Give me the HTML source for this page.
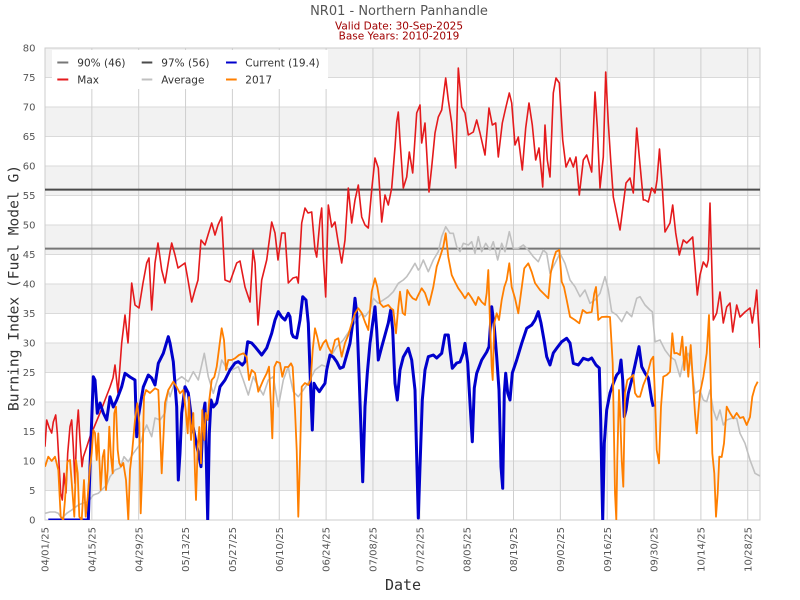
<!DOCTYPE html>
<html><head><meta charset="utf-8"><style>
html,body{margin:0;padding:0;background:#fff;}
svg{display:block;}
text{font-family:"DejaVu Sans","Liberation Sans",sans-serif;}
</style></head><body>
<svg width="800" height="600" viewBox="0 0 800 600" xmlns="http://www.w3.org/2000/svg">
<defs><clipPath id="pc"><rect x="45" y="48" width="715" height="472"/></clipPath></defs>
<rect x="0" y="0" width="800" height="600" fill="#fff"/>
<!-- bands -->
<g fill="#f2f2f2">
<rect x="45" y="461" width="715" height="29.5"/>
<rect x="45" y="402" width="715" height="29.5"/>
<rect x="45" y="343" width="715" height="29.5"/>
<rect x="45" y="284" width="715" height="29.5"/>
<rect x="45" y="225" width="715" height="29.5"/>
<rect x="45" y="166" width="715" height="29.5"/>
<rect x="45" y="107" width="715" height="29.5"/>
<rect x="45" y="48" width="715" height="29.5"/>
</g>
<!-- horizontal grid -->
<g stroke="#dadada" stroke-width="1">
<line x1="45" x2="760" y1="490.5" y2="490.5"/><line x1="45" x2="760" y1="461" y2="461"/>
<line x1="45" x2="760" y1="431.5" y2="431.5"/><line x1="45" x2="760" y1="402" y2="402"/>
<line x1="45" x2="760" y1="372.5" y2="372.5"/><line x1="45" x2="760" y1="343" y2="343"/>
<line x1="45" x2="760" y1="313.5" y2="313.5"/><line x1="45" x2="760" y1="284" y2="284"/>
<line x1="45" x2="760" y1="254.5" y2="254.5"/><line x1="45" x2="760" y1="225" y2="225"/>
<line x1="45" x2="760" y1="195.5" y2="195.5"/><line x1="45" x2="760" y1="166" y2="166"/>
<line x1="45" x2="760" y1="136.5" y2="136.5"/><line x1="45" x2="760" y1="107" y2="107"/>
<line x1="45" x2="760" y1="77.5" y2="77.5"/>
</g>
<!-- vertical grid -->
<g stroke="#cfcfcf" stroke-width="1">
<line x1="91.85" x2="91.85" y1="48" y2="520"/><line x1="138.7" x2="138.7" y1="48" y2="520"/>
<line x1="185.55" x2="185.55" y1="48" y2="520"/><line x1="232.4" x2="232.4" y1="48" y2="520"/>
<line x1="279.25" x2="279.25" y1="48" y2="520"/><line x1="326.1" x2="326.1" y1="48" y2="520"/>
<line x1="372.95" x2="372.95" y1="48" y2="520"/><line x1="419.8" x2="419.8" y1="48" y2="520"/>
<line x1="466.65" x2="466.65" y1="48" y2="520"/><line x1="513.5" x2="513.5" y1="48" y2="520"/>
<line x1="560.35" x2="560.35" y1="48" y2="520"/><line x1="607.2" x2="607.2" y1="48" y2="520"/>
<line x1="654.05" x2="654.05" y1="48" y2="520"/><line x1="700.9" x2="700.9" y1="48" y2="520"/>
<line x1="747.75" x2="747.75" y1="48" y2="520"/>
</g>
<rect x="45" y="48" width="715" height="472" fill="none" stroke="#cccccc" stroke-width="1"/>

<g clip-path="url(#pc)" fill="none" stroke-linejoin="round">
<line x1="45" x2="760" y1="248.6" y2="248.6" stroke="#777" stroke-width="2"/>
<line x1="45" x2="760" y1="189.6" y2="189.6" stroke="#4a4a4a" stroke-width="2"/>
<polyline stroke="#e41a1c" stroke-width="1.6" points="45,446.7 46.7,420 49.3,428 51.7,433 53.3,422 55.7,415 57.3,433 59,463.3 60.7,493.3 62.3,500 64,473.3 66,493 67.7,453.3 70,426.7 71.7,420 73.3,447 75,483.3 76.7,430 78.3,410 80,440 82,466.7 83.3,457 86.7,447 90,436.7 95,425 100,413 105,400 110,387 113,378 115,365 118,393 121.7,343 125,315 128,343 131.7,283 135,305 139,308 143,283 146.7,263 149,258 151.7,310 155,263 158,243 161.7,270 165,283 170,252 171.7,243 175,255 178,268 185,263 188,280 191.7,302 195,290 198,280 201,240 205,245 208,235 211.7,223 215,235 218,225 221.7,217 225,280 230,282 236.7,263 240,261 245,287 250,302 253,250 255,263 258,325 261.7,280 266.7,260 271.7,222 275,233 278,260 281.7,233 285,233 288.3,283 293,278 296.7,277 298.3,283 301.7,223 305,208 308,213 311.7,212 315,250 316.7,257 320,220 321.7,208 323.3,257 325.7,297 328.3,205 331.7,227 335,222 338.3,243 341.7,263 345,240 348.3,188 351.7,223 355,200 358.3,185 361.7,217 365,225 368.3,228 371.7,190 375,158 378.3,168 381.7,222 385,195 388.3,205 391.7,188 395,147 396.7,122 398.3,112 400,140 403.3,188 406.7,177 409.3,152 412.7,173 416.7,113 420,105 421.7,143 425,123 429,192 431.7,167 435,133 438.3,117 441.7,110 445.7,78 448.3,100 451.7,123 455.7,168 458.3,68 461.7,107 465,113 468.3,135 473.3,132 476.7,120 480,133 485,155 489,108 492.3,125 495.7,123 498.3,157 502.3,123 505.7,108 509.3,93 511.7,103 515,145 518.3,137 522.3,170 525.7,128 529,103 532.3,125 535.7,160 539,148 541.7,175 542.7,187 545,125 547.3,160 550,177 553.3,93 556,78 559.3,83 562.7,140 566,167 570,158 573.3,167 576,157 579.3,195 583.3,160 586.7,155 591.7,172 595,92 597.3,127 600,188 603.3,157 605.7,72 608.3,123 610.7,160 613.3,197 620,230 626,183 630,178 633.3,193 636.7,128 639.3,157 643.3,200 645,200 648.3,202 651.7,188 655,193 657,180 659.5,149 662.3,187 665,232 670,223 672.7,205 675.7,233 679.3,255 683.3,240 686.7,243 692.7,237 694.3,257 697.3,295 700,275 703.3,262 706.7,267 708.3,260 710,203 711.7,263 713.3,320 716.7,313 720,292 723.3,323 726.7,307 730,303 732.7,332 736.7,305 740,317 745,312 750,308 752.3,323 755,305 756.7,290 758.3,320 760,348"/>
<polyline stroke="#c0c0c0" stroke-width="1.6" points="45,513.3 50,512 55,512 58.3,513.3 61.7,518.3 66.7,513.3 71.7,510 78.3,505 83.3,503 88.3,501.7 93.3,495 98.3,493.3 103.3,488.3 106.7,485 110,476.7 115,470 120,468 124,456.7 128.3,461.7 133.3,453.3 138.3,446.7 141.7,440 143.3,433 146.7,425 151.7,436.7 155,418 160,420 165,413 168.3,390 170,396.7 175,381.7 181.7,376.7 188.3,381.7 193.3,371.7 198.3,380 204.3,353.3 208.3,376.7 213.3,393.3 218.3,376.7 221.7,360 226.7,368.3 231.7,370 238.3,366.7 243.3,380 248.3,395 253.3,376.7 258.3,386.7 263.3,395 268.3,380 273.3,376.7 278.3,406.7 283.3,380 288.3,366.7 290,376.7 293.3,391.7 298.3,396.7 303.3,390 310,380 315,370 321.7,365 326.7,366.7 331.7,355 336.7,346.7 343.3,340 350,330 356.7,320 361.7,313 365,316.7 370,310 373.3,298.3 378.3,303.3 383.3,300 388.3,296.7 393.3,291.7 398.3,283.3 403.3,280 406.7,276.7 410,271.7 415,263.3 418.3,270 420,268 423.3,260 428.3,271.7 433.3,260 438.3,251.7 441.7,236.7 445.7,226.7 450,233.3 453.3,233.3 456.7,246.7 460,251.7 463.3,243.3 468.3,245 471.7,241.7 475,253.3 478.3,236.7 481.7,251.7 485.7,243.3 490,250 493.3,241.7 497.7,260 501.7,243.3 505,251.7 509.3,231.7 513.3,248.3 518.3,248.3 523.3,245 528.3,250 533.3,256.7 538.3,261.7 543.3,250 546.7,253.3 550,273.3 555,263.3 560,253.3 565,263.3 570,280 575,286.7 580,296.7 585,290 590,303.3 595,300 600,293.3 605,276.7 608.3,290 611.7,311.7 616.7,315 621.7,321.7 626.7,311.7 631.7,316.7 636.7,298.3 640,296.7 645,305 650,310 652.3,311.7 655,341.7 660,340 665,350 670,356.7 675,360 680,376.7 683.3,361.7 688.3,353.3 691.7,366.7 695,393.3 700,390 703.3,400 706.7,401.7 710,390 713.3,410 716.7,420 720,410 723.3,425 726.7,420 731.7,418.3 736.7,418.3 740,433.3 745,443.3 750,460 755,473.3 760,476"/>
<polyline stroke="#0000cc" stroke-width="3" points="48.3,520 88.3,520 90,466.7 91.7,420 93.3,376.7 95,380 97.3,413.3 100,403 103.3,413 106.7,420 110,396.7 113.3,407 116.7,400 121.7,386.7 125,373.3 130,377 135,380 136.7,436.7 138.3,417 143.3,387 148.3,375 151.7,378 155,385 158.3,363.3 163.3,353.3 168.3,336.7 170,343 173.3,361.7 176.7,406.7 178.3,480 180,453 181.7,413 185,386.7 188.3,393 191.7,420 195,436.7 198.3,453.3 201,466.7 203.3,413.3 205,403 207.7,520 209.3,433.3 211,400 213.3,407 216.7,403 220,386.7 225,380 230,370 235,363 238.3,361.7 242.3,365 245,361.7 247.7,341.7 251.7,343 255,346.7 261.7,355 266.7,348 271.7,333.3 275,320 278.3,311.7 281.7,317 285,320 288.3,313.3 290,316.7 291.7,333.3 293.3,336.7 296.7,338 300,320 302.7,296.7 306,300 308.3,323.3 310.7,390 312.3,430 314,383.3 316,387 319.3,391.7 321.7,388 325,383.3 326.7,370 330,355 333.3,357 336.7,361.7 340,368.3 343.3,367 346.7,355 350,343.3 352.7,323.3 355,298.3 356.7,313 359,373.3 361,430 362.7,481.7 365,406.7 367.3,373.3 370,343.3 372.7,323 375,306.7 376.7,330 378.3,360 381.7,347 385,335 388.3,323 390.7,310 392.7,330 395,383.3 397.3,400 400,370 403.3,357 408.3,348.3 411.7,360 415,390 416.7,456.7 418.3,518 420,466.7 422.3,400 425,370 428.3,356.7 433.3,355 436.7,358 441.7,353.3 445,335 448.3,335 450,350 452.3,368.3 456.7,363 460,362 463.3,353 465,343.3 467.7,363 470,403.3 472.3,441.7 474.3,388 476.7,373.3 481.7,360 486.7,352 489,346.7 491.7,306.7 494.3,327 496.7,357 499,390 501,466.7 502.7,488.3 504.3,393 505.7,373.3 507.7,393 510,400 512.3,373 516.7,360 521.7,343.3 526.7,328.3 531.7,325 535,320 538.3,311.7 541,323 544.3,341.7 546.7,356.7 550,365 553.3,353 556.7,348.3 561.7,341.7 566.7,338.3 570,343 573.3,363.3 578.3,365 583.3,358.3 588.3,360 591.7,358 596,365 599.3,368 600.7,420 601.7,473.3 602.7,520 604.3,443.3 606.7,410 610,393 613.3,383.3 616.7,375 619.3,372 621,360 622.7,380 624.3,416.7 626,410 628.3,393.3 631.7,380 635,365 639,346.7 641.7,366.7 645,373 648.3,378 651.7,400 653.3,406.7"/>
<polyline stroke="#ff7f00" stroke-width="1.8" points="45,466.7 48.3,456.7 51.7,461 55,456.7 58.3,470 60.7,516.7 63.3,520 65,500 67.3,461.7 70,460 72.3,490 74.3,516.7 76,460 77.7,473 79.3,516.7 81.7,520 84,480 85.7,516.7 87.7,497 90,466.7 91.7,453.3 93.3,430 95,433 96.7,460 98.3,433.3 100.7,490 102.7,457 104.3,450 106,490 107.7,470 109.3,426.7 111,457 112.7,473.3 114.3,413.3 116,406.7 117.7,450 119.3,463 121,466.7 123.3,463 126,480 128.3,520 130,470 132.3,450 135,420 137.3,403.3 139.3,423 140.7,513.3 142.3,470 144,396.7 146,390 150,393 155,388.3 158.3,390 160,430 161.7,473.3 163.3,440 165,403 168.3,390 173.3,381.7 176.7,387 180,393.3 183.3,390 185.7,410 187.7,433.3 189,397 191,440 193.3,413 195,473.3 196,500 197.7,447 199.3,427 201,463.3 202.3,410 204.3,440 205.7,413 207.7,420 209.3,400 211.7,380 214.3,377 216.7,366.7 219.3,346.7 221.7,328.3 224,340 226,370 228.3,360 231.7,360 235,358.3 239,355 243.3,353.3 246.7,357 249,380 251.7,370 255,373 258.3,391.7 263.3,380 266.7,373.3 269,366.7 271,406.7 272.3,438.3 274.3,367 276.7,361.7 280,363 282.3,376.7 285,367 288.3,367 291,363.3 292.7,367 295,410 296.7,450 298.3,516.7 300,456.7 301.7,386.7 305,383 308.3,385 310.7,380 312.7,350 315,328.3 317.3,337 320,350 323.3,343 326,340 328.3,347 331.7,353.3 335,340 338.3,338.3 341.7,356.7 345,343 348.3,335 351.7,323.3 355,313.3 358.3,308.3 361.7,313 365,322 368.3,330 371.7,291.7 375,278.3 377.3,287 380,303.3 383.3,307 388.3,305 391,308.3 393.3,310 396,333.3 398.3,307 400,291.7 402.7,313 405,315 407.3,290 410,295 412.7,298.3 416,300 418.3,295 421.7,288.3 425,293 429,305 433.3,287 436.7,266.7 440,257 443.3,246.7 445.7,233.3 448.3,257 451.7,275 455,282 458.3,288.3 461.7,293 465,298.3 468.3,293 471.7,298 475.7,305 478.3,297 481.7,302 485,305 486.7,293 488.3,270 490,323 491.7,366.7 492.7,380 494.3,323 496.7,313.3 499,320 501.7,300 504.3,287 506.7,280 509.3,263.3 511.7,287 515,298.3 518.3,313.3 521,293 524.3,268.3 528.3,263.3 531.7,272 535,283 540,290 543.3,293.3 548.3,298.3 550.7,273.3 553.3,260 556,251.7 559.3,250 561.7,281.7 564,287 566.7,300 570,316.7 575,320 579.3,323.3 582.7,310 586.7,313 591.7,312 594.3,293.3 596,287 598.3,320 601.7,317 606.7,316.7 610,317 612.7,363.3 614,436.7 615,493.3 616.3,520 617.3,460 619,390 620,410 621.7,460 623.3,486.7 625,393 627.3,380 630,378 633.3,375 635,393 637.3,396.7 640,396.7 643.3,385 646.7,376.7 651,360 653.3,356.7 655,396.7 656.7,450 659,463.3 661,406.7 663.3,376.7 666.7,375 670,371.7 672.3,333.3 674.3,353.3 676.7,353 680,355 682.3,336.7 684.3,370 686,347 688.3,376.7 690.7,345 693.3,387 695,413.3 696.7,433.3 698.3,413 700,393 703.3,377 706.7,353.3 709,315 710.7,380 712.3,453.3 714.3,473.3 716,516.7 717.7,493 719.3,456.7 721.7,457 724,443.3 726.7,406.7 730,413 733.3,418.3 736.7,413 740,418 743.3,417 746.7,425 750,417 752.3,396.7 755,387 757.7,381.7"/>
</g>

<!-- legend -->
<rect x="52" y="50" width="276" height="39" fill="#ffffff"/>
<g stroke-width="2">
<line x1="57.3" x2="68.3" y1="62.5" y2="62.5" stroke="#777"/>
<line x1="141.7" x2="152.3" y1="62.5" y2="62.5" stroke="#4a4a4a"/>
<line x1="226" x2="236.7" y1="62.5" y2="62.5" stroke="#0000cc"/>
<line x1="57.3" x2="68.3" y1="79.5" y2="79.5" stroke="#e41a1c"/>
<line x1="141.7" x2="152.3" y1="79.5" y2="79.5" stroke="#c0c0c0"/>
<line x1="226" x2="236.7" y1="79.5" y2="79.5" stroke="#ff7f00"/>
</g>
<g font-size="10.5" fill="#333">
<text x="77.3" y="66.3">90% (46)</text>
<text x="161.3" y="66.3">97% (56)</text>
<text x="245.3" y="66.3">Current (19.4)</text>
<text x="77.3" y="83.3">Max</text>
<text x="161.3" y="83.3">Average</text>
<text x="245.3" y="83.3">2017</text>
</g>

<!-- y tick labels -->
<g font-size="10" fill="#555" text-anchor="end">
<text x="35.5" y="523.6">0</text><text x="35.5" y="494.1">5</text>
<text x="35.5" y="464.6">10</text><text x="35.5" y="435.1">15</text>
<text x="35.5" y="405.6">20</text><text x="35.5" y="376.1">25</text>
<text x="35.5" y="346.6">30</text><text x="35.5" y="317.1">35</text>
<text x="35.5" y="287.6">40</text><text x="35.5" y="258.1">45</text>
<text x="35.5" y="228.6">50</text><text x="35.5" y="199.1">55</text>
<text x="35.5" y="169.6">60</text><text x="35.5" y="140.1">65</text>
<text x="35.5" y="110.6">70</text><text x="35.5" y="81.1">75</text>
<text x="35.5" y="51.6">80</text>
</g>

<!-- x tick labels -->
<g font-size="10" fill="#555" text-anchor="end">
<text transform="translate(48.6,527) rotate(-90)">04/01/25</text>
<text transform="translate(95.45,527) rotate(-90)">04/15/25</text>
<text transform="translate(142.3,527) rotate(-90)">04/29/25</text>
<text transform="translate(189.15,527) rotate(-90)">05/13/25</text>
<text transform="translate(236,527) rotate(-90)">05/27/25</text>
<text transform="translate(282.85,527) rotate(-90)">06/10/25</text>
<text transform="translate(329.7,527) rotate(-90)">06/24/25</text>
<text transform="translate(376.55,527) rotate(-90)">07/08/25</text>
<text transform="translate(423.4,527) rotate(-90)">07/22/25</text>
<text transform="translate(470.25,527) rotate(-90)">08/05/25</text>
<text transform="translate(517.1,527) rotate(-90)">08/19/25</text>
<text transform="translate(563.95,527) rotate(-90)">09/02/25</text>
<text transform="translate(610.8,527) rotate(-90)">09/16/25</text>
<text transform="translate(657.65,527) rotate(-90)">09/30/25</text>
<text transform="translate(704.5,527) rotate(-90)">10/14/25</text>
<text transform="translate(751.35,527) rotate(-90)">10/28/25</text>
</g>

<!-- axis titles -->
<text x="403" y="590" font-size="15" fill="#333" text-anchor="middle" style="font-family:'DejaVu Sans Mono','Liberation Mono',monospace;">Date</text>
<text transform="translate(18.5,288) rotate(-90)" font-size="14.6" fill="#333" text-anchor="middle" style="font-family:'DejaVu Sans Mono','Liberation Mono',monospace;">Burning Index (Fuel Model G)</text>

<!-- titles -->
<text x="399" y="15" font-size="13" fill="#555" text-anchor="middle">NR01 - Northern Panhandle</text>
<text x="399" y="29.3" font-size="10.5" fill="#a00000" text-anchor="middle">Valid Date: 30-Sep-2025</text>
<text x="399" y="39.3" font-size="10.5" fill="#a00000" text-anchor="middle">Base Years: 2010-2019</text>
</svg>
</body></html>
